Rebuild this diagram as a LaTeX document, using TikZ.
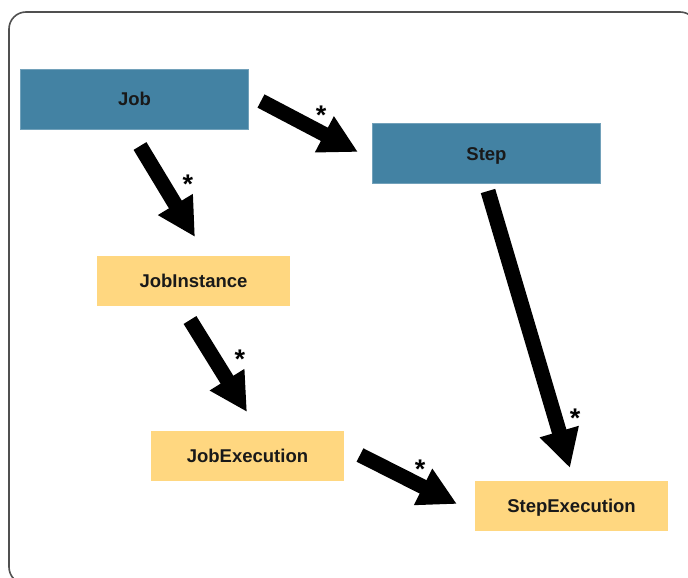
\documentclass[tikz,border=0pt]{standalone}
\usepackage{fontspec}
\setmainfont{Liberation Sans}
\usetikzlibrary{arrows.meta}
\definecolor{jobblue}{HTML}{4382A3}
\definecolor{instyellow}{HTML}{FFD780}
\definecolor{framegray}{HTML}{505050}
\begin{document}
\begin{tikzpicture}[x=1pt,y=-1pt,
  box/.style={rectangle, inner sep=0pt, font=\fontsize{18.5}{20}\selectfont\bfseries,
    text=black!90, text height=13.3pt, text depth=0pt},
  bluebox/.style={box, fill=jobblue, draw=jobblue!75!white, line width=0.6pt,
    minimum width=228pt, minimum height=60pt},
  yellowbox/.style={box, fill=instyellow, minimum width=193pt, minimum height=50pt},
  fatarrow/.style={black, line width=15pt, -{Triangle[length=38pt,width=38pt]}},
  mult/.style={font=\fontsize{27}{30}\selectfont\bfseries, inner sep=0pt, anchor=base}
]
\useasboundingbox (0,0) rectangle (688,578);
\clip (0,0) rectangle (688,578);

% outer frame, running past the right and bottom edges
\draw[framegray, line width=1.6pt, rounded corners=17pt] (9,12) rectangle (697,584);

% domain objects
\node[bluebox]   (job)     at (134.5,99)  {Job};
\node[bluebox]   (step)    at (486.5,153.5) {Step};
\node[yellowbox] (jobinst) at (193.5,281) {JobInstance};
\node[yellowbox] (jobexec) at (247.5,456) {JobExecution};
\node[yellowbox] (stepexec) at (571.5,506) {StepExecution};

% arrow ends
\coordinate (jobS)      at (261,101);
\coordinate (stepT)     at (358,152);
\coordinate (jobD)      at (140,146);
\coordinate (jobinstT)  at (195,237);
\coordinate (jobinstS)  at (190,320);
\coordinate (jobexecT)  at (247,412);
\coordinate (stepS)     at (488,191);
\coordinate (stepexecT) at (570,468);
\coordinate (jobexecS)  at (360,455);
\coordinate (stepexecL) at (457,504);

% one-to-many associations
\draw[fatarrow] (jobS) -- (stepT);
\draw[fatarrow] (jobD) -- (jobinstT);
\draw[fatarrow] (jobinstS) -- (jobexecT);
\draw[fatarrow] (stepS) -- (stepexecT);
\draw[fatarrow] (jobexecS) -- (stepexecL);

% multiplicities
\node[mult] (m1) at (321,124.5) {*};
\node[mult] (m2) at (188,193.5) {*};
\node[mult] (m3) at (240,368.5) {*};
\node[mult] (m4) at (575,427.5) {*};
\node[mult] (m5) at (420,478.5) {*};
\end{tikzpicture}
\end{document}
